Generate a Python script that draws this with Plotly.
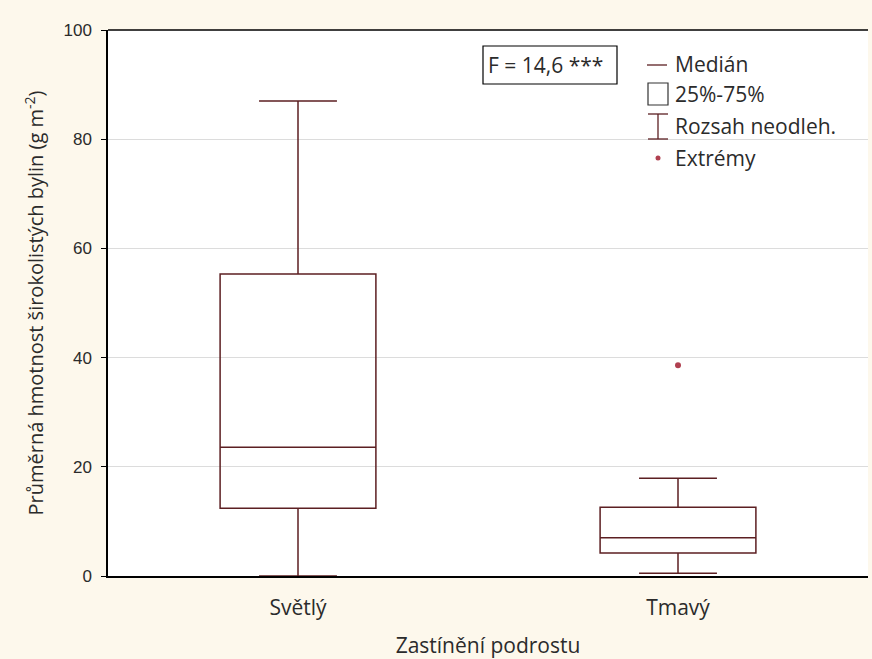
import plotly.graph_objects as go

categories = ["Světlý", "Tmavý"]
q1 = [12.4, 4.2]
median = [23.6, 7.0]
q3 = [55.3, 12.6]
lower_whisker = [0.0, 0.5]
upper_whisker = [87.0, 17.9]
outlier_cat = ["Tmavý"]
outlier_val = [38.6]
y_ticks = [0, 20, 40, 60, 80, 100]

line_col = "#5C1F22"
text_col = "#2B2B2B"
font_title = "Open Sans, Noto Sans, sans-serif"

fig = go.Figure()
fig.add_trace(go.Box(
    x=categories, q1=q1, median=median, q3=q3,
    lowerfence=lower_whisker, upperfence=upper_whisker,
    boxpoints=False, width=0.41, whiskerwidth=0.5,
    line=dict(color=line_col, width=1.5), fillcolor="rgba(255,255,255,0)",
    showlegend=False, hoverinfo="skip",
))
fig.add_trace(go.Scatter(
    x=outlier_cat, y=outlier_val, mode="markers",
    marker=dict(color="#B04050", size=6, line=dict(width=0)),
    showlegend=False, hoverinfo="skip",
))

L, R, T, B = 108, 868, 30, 576
def px(x):
    return (x - L) / (R - L)
def py(y):
    return (B - y) / (B - T)

shapes = []
shapes.append(dict(type="line", xref="paper", yref="paper", x0=0, x1=1, y0=1, y1=1,
                   line=dict(color="black", width=1.5)))
shapes.append(dict(type="rect", xref="paper", yref="paper", x0=px(483), x1=px(617),
                   y0=py(84), y1=py(46), line=dict(color="black", width=1.2), fillcolor="white"))
shapes.append(dict(type="line", xref="paper", yref="paper", x0=px(647), x1=px(667),
                   y0=py(65), y1=py(65), line=dict(color=line_col, width=1.3)))
shapes.append(dict(type="rect", xref="paper", yref="paper", x0=px(648), x1=px(668),
                   y0=py(105), y1=py(83), line=dict(color="#333333", width=1.2)))
shapes.append(dict(type="line", xref="paper", yref="paper", x0=px(658), x1=px(658),
                   y0=py(139), y1=py(114), line=dict(color=line_col, width=1.3)))
shapes.append(dict(type="line", xref="paper", yref="paper", x0=px(648), x1=px(668),
                   y0=py(114), y1=py(114), line=dict(color=line_col, width=1.3)))
shapes.append(dict(type="line", xref="paper", yref="paper", x0=px(648), x1=px(668),
                   y0=py(139), y1=py(139), line=dict(color=line_col, width=1.3)))
shapes.append(dict(type="circle", xref="paper", yref="paper", x0=px(655.5), x1=px(660.5),
                   y0=py(160.5), y1=py(155.5), line=dict(width=0), fillcolor="#B04050"))

ann = []
def txt(x, y, s):
    ann.append(dict(x=px(x), y=py(y), xref="paper", yref="paper", text=s, showarrow=False,
                    xanchor="left", yanchor="middle",
                    font=dict(family=font_title, size=21, color=text_col)))
txt(486, 65, "F = 14,6 ***")
txt(673, 64, "Medián")
txt(673, 94, "25%-75%")
txt(673, 126, "Rozsah neodleh.")
txt(673, 158, "Extrémy")

fig.update_layout(
    width=872, height=659,
    margin=dict(l=L, r=872 - R, t=T, b=659 - B),
    paper_bgcolor="#FDF8EC", plot_bgcolor="white",
    shapes=shapes, annotations=ann,
    xaxis=dict(
        type="category", range=[-0.5, 1.5], showgrid=False, zeroline=False,
        showline=True, linecolor="black", linewidth=1.5, ticks="",
        ticklabelstandoff=12,
        tickfont=dict(family=font_title, size=21, color=text_col),
        title=dict(text="Zastínění podrostu", standoff=18,
                   font=dict(family=font_title, size=21, color=text_col)),
    ),
    yaxis=dict(
        range=[0, 100], tickvals=y_ticks, showgrid=True, gridcolor="#DCDCDC", gridwidth=1,
        zeroline=False, showline=True, linecolor="black", linewidth=1.5,
        ticks="outside", ticklen=5, tickcolor="black", ticklabelstandoff=6,
        tickfont=dict(family="Liberation Sans, Arial, sans-serif", size=17, color=text_col),
        title=dict(text="Průměrná hmotnost širokolistých bylin (g m<sup>-2</sup>)", standoff=14,
                   font=dict(family=font_title, size=20, color=text_col)),
    ),
)

fig.write_html("out.html", config={"displayModeBar": False},
               post_script="document.body.style.margin='0';document.body.style.overflow='hidden';")
